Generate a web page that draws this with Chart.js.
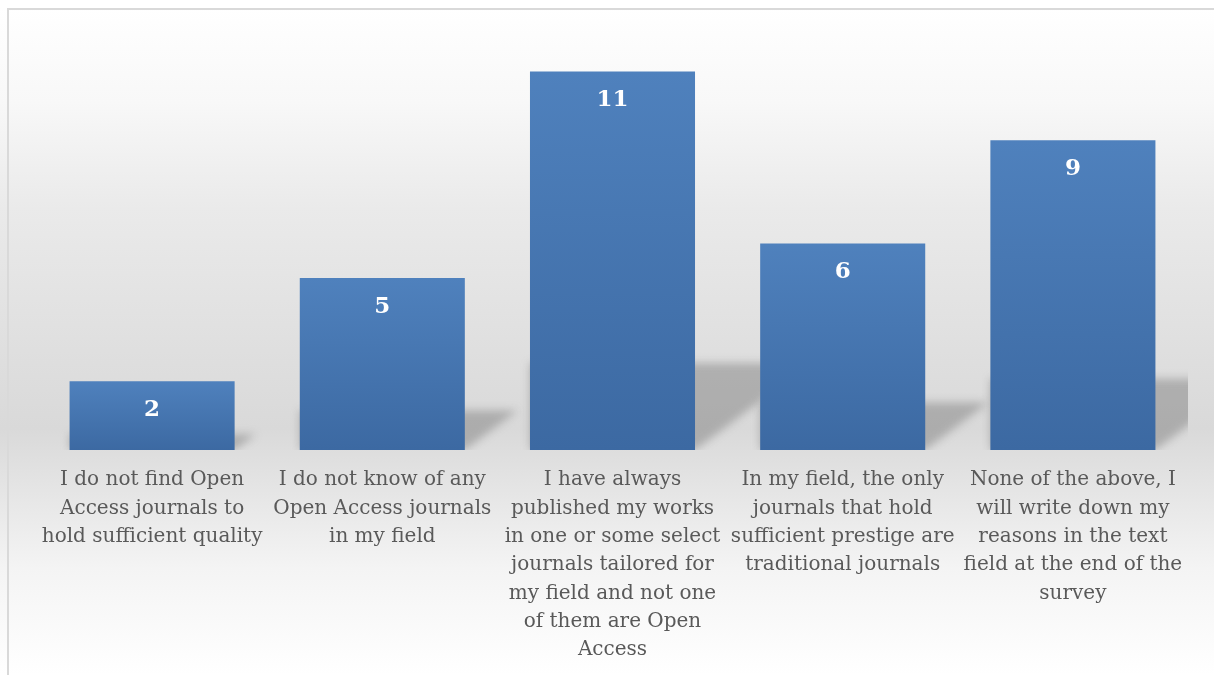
<!DOCTYPE html>
<html>
<head>
<meta charset="utf-8">
<script src="https://cdn.jsdelivr.net/npm/chart.js@4/dist/chart.umd.min.js"></script>
<style>
  html, body { margin: 0; padding: 0; width: 1214px; height: 675px; overflow: hidden; background: #ffffff; }
  #wrap { position: absolute; left: 0; top: 0; width: 1214px; height: 675px; }
  #frame { position: absolute; left: 7px; top: 8px; width: 1230px; height: 700px; border: 2px solid #d9d9d9; pointer-events: none; box-sizing: border-box; }
</style>
</head>
<body>
<div id="wrap"><canvas id="c" width="1214" height="675"></canvas></div>
<div id="frame"></div>
<script>
const categories = [
  ["I do not find Open", "Access journals to", "hold sufficient quality"],
  ["I do not know of any", "Open Access journals", "in my field"],
  ["I have always", "published my works", "in one or some select", "journals tailored for", "my field and not one", "of them are Open", "Access"],
  ["In my field, the only", "journals that hold", "sufficient prestige are", "traditional journals"],
  ["None of the above, I", "will write down my", "reasons in the text", "field at the end of the", "survey"]
];
const counts = [2, 5, 11, 6, 9];
const yMin = 0;
const yMax = 12;

const SERIF = "'DejaVu Serif', 'Liberation Serif', serif";

const bgPlugin = {
  id: 'bg',
  beforeDraw(chart) {
    const ctx = chart.ctx;
    const h = chart.height;
    const g = ctx.createLinearGradient(0, 8, 0, h);
    g.addColorStop(0.0, '#ffffff');
    g.addColorStop(0.14, '#f8f8f8');
    g.addColorStop(0.30, '#eaeaea');
    g.addColorStop(0.63, '#d9d9d9');
    g.addColorStop(0.70, '#e2e2e2');
    g.addColorStop(0.84, '#f4f4f4');
    g.addColorStop(1.0, '#ffffff');
    ctx.save();
    ctx.fillStyle = g;
    ctx.fillRect(0, 0, chart.width, h);
    ctx.restore();
  }
};

const shadowPlugin = {
  id: 'barShadow',
  beforeDatasetsDraw(chart) {
    const ctx = chart.ctx;
    const area = chart.chartArea;
    const meta = chart.getDatasetMeta(0);
    ctx.save();
    ctx.beginPath();
    ctx.rect(area.left, area.top, area.right - area.left, area.bottom - area.top);
    ctx.clip();
    ctx.filter = 'blur(4px)';
    ctx.fillStyle = 'rgba(100,100,100,0.38)';
    meta.data.forEach(el => {
      const p = el.getProps(['x', 'y', 'base', 'width'], true);
      const left = p.x - p.width / 2;
      const right = p.x + p.width / 2;
      const hgt = p.base - p.y;
      const sh = hgt * 0.23;
      const ext = sh / 0.75;
      ctx.beginPath();
      ctx.moveTo(left, p.base);
      ctx.lineTo(right, p.base);
      ctx.lineTo(right + ext, p.base - sh);
      ctx.lineTo(left, p.base - sh);
      ctx.closePath();
      ctx.fill();
    });
    ctx.restore();
  }
};

const valuePlugin = {
  id: 'values',
  afterDatasetsDraw(chart) {
    const ctx = chart.ctx;
    const meta = chart.getDatasetMeta(0);
    const data = chart.data.datasets[0].data;
    ctx.save();
    ctx.fillStyle = '#ffffff';
    ctx.font = "bold 23px " + SERIF;
    ctx.textAlign = 'center';
    ctx.textBaseline = 'middle';
    meta.data.forEach((el, i) => {
      const p = el.getProps(['x', 'y'], true);
      ctx.fillText(String(data[i]), p.x, p.y + 29);
    });
    ctx.restore();
  }
};

function barFill(ctx) {
  const chart = ctx.chart;
  const y = chart.scales && chart.scales.y;
  if (!y || typeof ctx.raw !== 'number') return '#4577b3';
  const top = y.getPixelForValue(ctx.raw);
  const base = y.getPixelForValue(0);
  if (!isFinite(top) || !isFinite(base) || top === base) return '#4577b3';
  const g = chart.ctx.createLinearGradient(0, top, 0, base);
  g.addColorStop(0, '#4f81bd');
  g.addColorStop(1, '#3c69a2');
  return g;
}

new Chart(document.getElementById('c'), {
  type: 'bar',
  data: {
    labels: categories,
    datasets: [{
      data: counts,
      backgroundColor: barFill,
      borderWidth: 0,
      categoryPercentage: 1.0,
      barPercentage: 0.717
    }]
  },
  options: {
    responsive: false,
    animation: false,
    events: [],
    layout: { padding: { left: 37, right: 26, top: 37, bottom: 0 } },
    plugins: {
      legend: { display: false },
      tooltip: { enabled: false },
      title: { display: false }
    },
    scales: {
      x: {
        grid: { display: false, drawTicks: false },
        border: { display: false },
        ticks: {
          color: '#595959',
          font: { family: SERIF, size: 20, lineHeight: 1.415 },
          padding: 16,
          maxRotation: 0,
          minRotation: 0,
          autoSkip: false
        },
        afterFit(scale) { scale.height = 225; }
      },
      y: {
        display: false,
        min: yMin,
        max: yMax
      }
    }
  },
  plugins: [bgPlugin, shadowPlugin, valuePlugin]
});
</script>
</body>
</html>
